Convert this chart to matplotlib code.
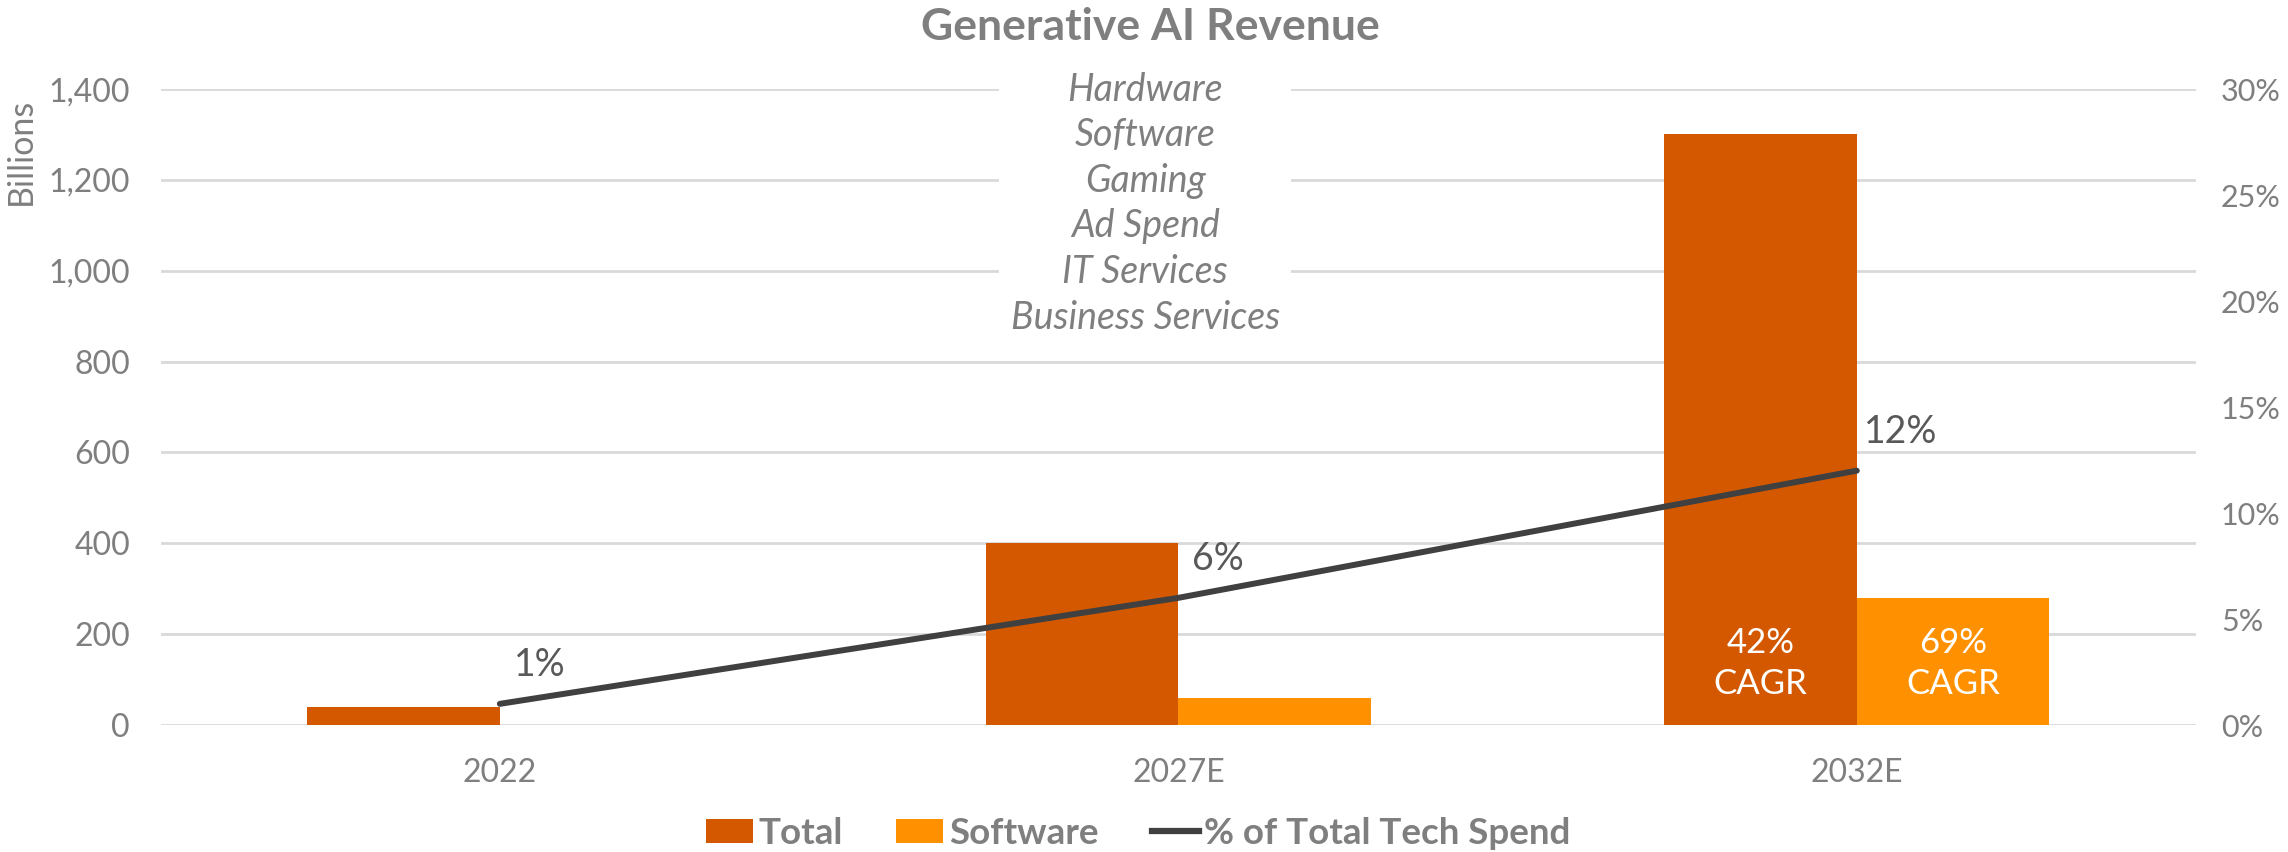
import matplotlib.pyplot as plt
from matplotlib.patches import Patch
from matplotlib.lines import Line2D
from matplotlib.ticker import FuncFormatter, PercentFormatter


plt.rcParams['font.family'] = ['Lato', 'DejaVu Sans']

years       = ['2022', '2027E', '2032E']
total       = [40, 400, 1300]
software    = [None, 60, 280]
tech_share  = [0.01, 0.06, 0.12]
share_lbls  = ['1%', '6%', '12%']
cagr_total  = '42%\nCAGR'
cagr_soft   = '69%\nCAGR'
segments    = ['Hardware', 'Software', 'Gaming', 'Ad Spend', 'IT Services', 'Business Services']

C_TOTAL = '#D35800'
C_SOFT  = '#FF9100'
C_LINE  = '#404040'
C_TEXT  = '#7F7F7F'
C_LABEL = '#595959'
C_GRID  = '#D9D9D9'

fig = plt.figure(figsize=(22.88, 8.52), dpi=100)
ax = fig.add_axes([0.0702, 0.149, 0.8896, 0.7465])
ax2 = ax.twinx()

x = list(range(len(years)))
w = 0.284

ax.bar([i - w/2 for i in x], total, width=w, color=C_TOTAL, zorder=2)
soft_x = [i + w/2 for i, v in zip(x, software) if v is not None]
soft_v = [v for v in software if v is not None]
ax.bar(soft_x, soft_v, width=w, color=C_SOFT, zorder=2)

ax.set_xlim(-0.5, 2.5)
ax.set_ylim(0, 1400)
ax.set_yticks(range(0, 1401, 200))
ax.yaxis.set_major_formatter(FuncFormatter(lambda v, p: f'{int(v):,}'))
ax.set_xticks(x)
ax.set_xticklabels(years)
ax.grid(axis='y', color=C_GRID, linewidth=2, zorder=0)
ax.set_axisbelow(True)
for s in ax.spines.values():
    s.set_visible(False)
for s in ax2.spines.values():
    s.set_visible(False)
ax.tick_params(length=0, labelsize=23, colors=C_TEXT)
ax.tick_params(axis='x', pad=24)
ax.tick_params(axis='y', pad=22)

ax2.plot(x, tech_share, color=C_LINE, linewidth=4.3, solid_capstyle='round', zorder=3)
ax2.set_ylim(0, 0.30)
ax2.set_yticks([0, 0.05, 0.10, 0.15, 0.20, 0.25, 0.30])
ax2.yaxis.set_major_formatter(PercentFormatter(1.0, decimals=0))
ax2.tick_params(length=0, labelsize=22, colors=C_TEXT, pad=18)

# label offsets in points (dx, dy)
offsets = [(10, 28), (10, 28), (5, 28)]
for xi, yi, lbl, off in zip(x, tech_share, share_lbls, offsets):
    ax2.annotate(lbl, (xi, yi), xytext=off, textcoords='offset points',
                 ha='left', va='center', fontsize=27, color=C_LABEL)

ax.text(2 - w/2, 135, cagr_total, ha='center', va='center', fontsize=25,
        color='white', linespacing=1.35, zorder=4)
ax.text(2 + w/2, 135, cagr_soft, ha='center', va='center', fontsize=25,
        color='white', linespacing=1.35, zorder=4)

fig.text(0.5026, 0.968, 'Generative AI Revenue', ha='center', va='center',
         fontsize=32, fontweight='bold', color=C_TEXT)
fig.text(0.009, 0.822, 'Billions', rotation=90, ha='center', va='center',
         fontsize=24.5, color=C_TEXT)
fig.text(0.5006, 0.761, '\n'.join(segments), ha='center', va='center',
         fontsize=27, style='italic', color=C_TEXT, linespacing=1.33,
         bbox=dict(facecolor='white', edgecolor='none', pad=8))

handles = [Patch(facecolor=C_TOTAL), Patch(facecolor=C_SOFT),
           Line2D([0], [0], color=C_LINE, linewidth=4.5)]
leg = fig.legend(handles, ['Total', 'Software', '% of Total Tech Spend'],
                 loc='center', bbox_to_anchor=(0.4975, 0.022), ncol=3, frameon=False,
                 prop={'size': 26.5, 'weight': 'bold'}, handlelength=1.28,
                 handleheight=0.62, handletextpad=0.15, columnspacing=1.45)
for t in leg.get_texts():
    t.set_color(C_TEXT)

fig.savefig('out.png', dpi=100)
